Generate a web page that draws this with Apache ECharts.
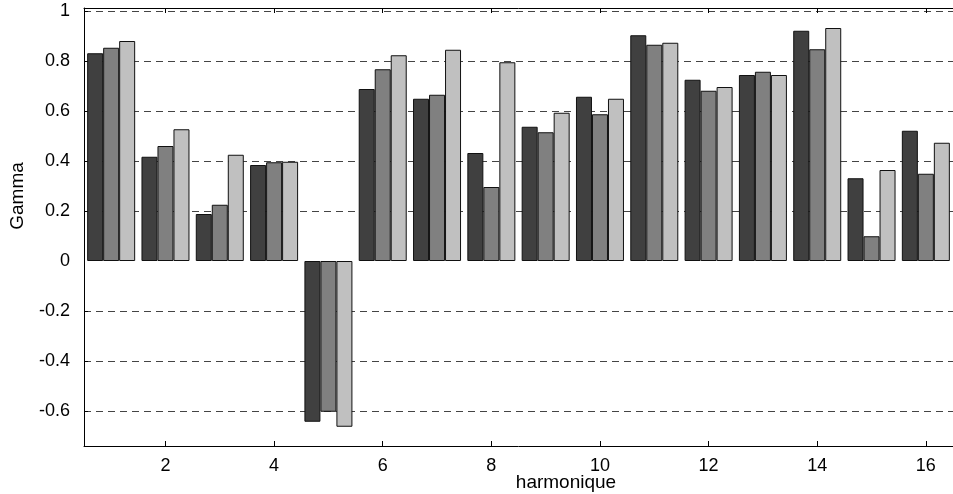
<!DOCTYPE html>
<html><head><meta charset="utf-8">
<script src="https://cdn.jsdelivr.net/npm/echarts@6.0.0/dist/echarts.min.js"></script>
<style>html,body{margin:0;padding:0;background:#fff}#c{width:953px;height:494px}</style>
</head><body><div id="c"></div>
<script>
const harmonics = [1,2,3,4,5,6,7,8,9,10,11,12,13,14,15,16];
const gammaA = [0.831,0.417,0.188,0.384,-0.643,0.688,0.649,0.432,0.537,0.657,0.903,0.725,0.744,0.921,0.331,0.521];
const gammaB = [0.853,0.460,0.225,0.395,-0.603,0.767,0.665,0.296,0.515,0.587,0.865,0.681,0.757,0.847,0.099,0.349];
const gammaC = [0.880,0.527,0.425,0.397,-0.663,0.823,0.845,0.795,0.593,0.649,0.873,0.696,0.744,0.932,0.364,0.473];
const xTickValues = [2,4,6,8,10,12,14,16];
const yLabelValues = [-0.6,-0.4,-0.2,0,0.2,0.4,0.6,0.8,1];
const yGridValues = [-0.6,-0.4,-0.2,0.2,0.4,0.6,0.8,1];
const xTitle = 'harmonique';
const yTitle = 'Gamma';

const FONT = '"Liberation Sans", Arial, Helvetica, sans-serif';
const chart = echarts.init(document.getElementById('c'), null, {renderer: 'canvas'});
function pairs(vals){ return harmonics.map((h,i)=>[h, vals[i]]); }
function barSeries(name, vals, color){
  return {
    name, type: 'bar', data: pairs(vals), barWidth: 16, barGap: '0%',
    itemStyle: {color, borderColor: '#111', borderWidth: 1},
    emphasis: {disabled: true}, silent: true
  };
}
const xCommon = {
  type: 'value', min: 0.5, max: 16.5,
  axisLine: {show: true, onZero: false, lineStyle: {color: '#000', width: 1}},
  axisTick: {show: true, inside: true, length: 5, customValues: xTickValues, lineStyle: {color: '#000'}},
  splitLine: {show: false}
};
chart.setOption({
  animation: false,
  backgroundColor: '#fff',
  grid: {left: 84, top: 8, width: 876, height: 438, containLabel: false},
  xAxis: [
    Object.assign({}, xCommon, {
      position: 'bottom',
      axisLabel: {show: true, customValues: xTickValues, color: '#000', fontSize: 18, fontFamily: FONT, margin: 11}
    }),
    Object.assign({}, xCommon, {
      position: 'top',
      axisLabel: {show: false}
    })
  ],
  yAxis: {
    type: 'value', min: -0.74, max: 1.012,
    axisLine: {show: true, onZero: false, lineStyle: {color: '#000', width: 1}},
    axisTick: {show: true, inside: true, length: 4, customValues: yGridValues, lineStyle: {color: '#000'}},
    axisLabel: {show: true, customValues: yLabelValues, color: '#000', fontSize: 18, fontFamily: FONT, margin: 14},
    splitLine: {show: true, lineStyle: {color: '#444', width: 1, type: [7, 5]}}
  },
  series: [
    barSeries('A', gammaA, '#404040'),
    barSeries('B', gammaB, '#808080'),
    barSeries('C', gammaC, '#c0c0c0')
  ],
  graphic: [
    {type: 'text', x: 18, y: 196, rotation: Math.PI/2,
     style: {text: yTitle, font: '19px ' + FONT, fill: '#000', align: 'center', verticalAlign: 'middle'}},
    {type: 'text', x: 566, y: 483,
     style: {text: xTitle, font: '19px ' + FONT, fill: '#000', align: 'center', verticalAlign: 'middle'}}
  ]
});
</script>
</body></html>
